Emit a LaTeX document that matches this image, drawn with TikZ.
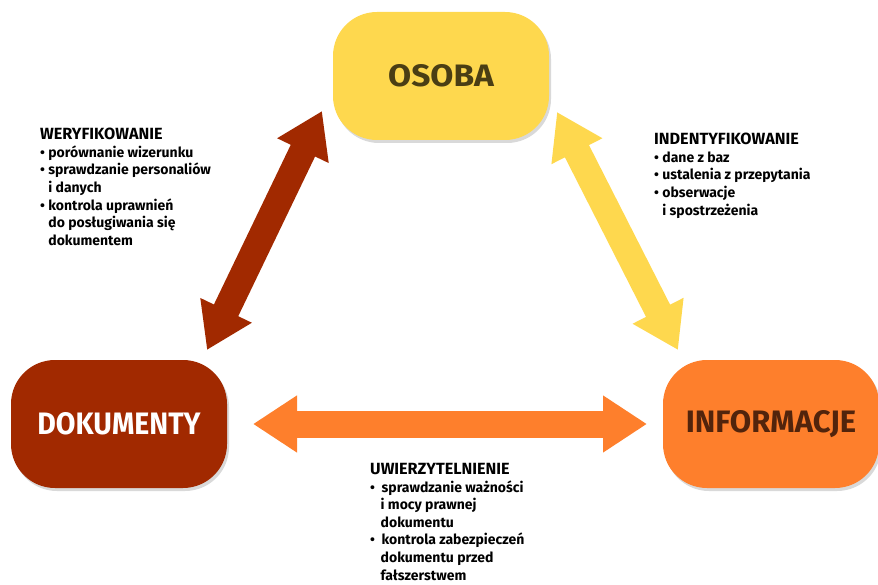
\documentclass[tikz,border=0pt]{standalone}
\usepackage{fontspec}
\setmainfont{Fira Sans}
\usetikzlibrary{arrows.meta,shadows}

\definecolor{osobaYellow}{RGB}{254,216,78}
\definecolor{dokRed}{RGB}{161,41,0}
\definecolor{infoOrange}{RGB}{254,127,44}
\definecolor{osobaText}{RGB}{74,62,20}
\definecolor{infoText}{RGB}{82,36,12}

\tikzset{
  box/.style={rounded corners=44pt, minimum width=216pt, minimum height=128pt, inner sep=0pt,
    font=\fontsize{31}{31}\selectfont\bfseries,
    drop shadow={shadow xshift=2pt, shadow yshift=-3pt, opacity=0.3}},
  fatarrow/.style={line width=27pt, {Triangle[length=44pt,width=54pt]}-{Triangle[length=44pt,width=54pt]}},
  txt/.style={align=left, inner sep=0pt, anchor=north west, font=\fontsize{14}{17.6}\selectfont\bfseries},
}
\newcommand{\blocktitle}[1]{{\fontsize{16.2}{17.6}\selectfont #1}}

\begin{document}
\begin{tikzpicture}[x=1pt,y=1pt,yscale=-1,xscale=1]
\useasboundingbox (0,0) rectangle (878,585);

%Shape: Rounded Rect
\node (osoba) [box, fill=osobaYellow, text=osobaText] at (441,76) {\scalebox{1.08}[1]{OSOBA}};
%Shape: Rounded Rect
\node (dok) [box, fill=dokRed, text=white] at (119,424) {\scalebox{0.92}[1]{DOKUMENTY}};
%Shape: Rounded Rect
\node (info) [box, fill=infoOrange, text=infoText] at (771,424) {INFORMACJE};

% arrow ends
\coordinate (dokTipU) at (207,350);
\coordinate (osobaTipL) at (322,111);
\coordinate (osobaTipR) at (557,112);
\coordinate (infoTipU) at (678,350);
\coordinate (dokTipR) at (253,424);
\coordinate (infoTipL) at (647,424);

%Double Arrows
\draw [fatarrow, dokRed] (dokTipU) -- (osobaTipL);
\draw [fatarrow, osobaYellow] (osobaTipR) -- (infoTipU);
\draw [fatarrow, infoOrange] (dokTipR) -- (infoTipL);

% Text Node
\node (wer) [txt] at (40,128) {\blocktitle{WERYFIKOWANIE}\\
\textbullet\ porównanie wizerunku\\
\textbullet\ sprawdzanie personaliów\\
\phantom{\textbullet\ }i danych\\
\textbullet\ kontrola uprawnień\\
\phantom{\textbullet\ }do posługiwania się\\
\phantom{\textbullet\ }dokumentem};
% Text Node
\node (ind) [txt] at (654,133) {\blocktitle{INDENTYFIKOWANIE}\\
\textbullet\ dane z baz\\
\textbullet\ ustalenia z przepytania\\
\textbullet\ obserwacje\\
\phantom{\textbullet\ }i spostrzeżenia};
% Text Node
\node (uwi) [txt] at (370,463) {\blocktitle{UWIERZYTELNIENIE}\\
\textbullet\ \ sprawdzanie ważności\\
\phantom{\textbullet\ }\,i mocy prawnej\\
\phantom{\textbullet\ }\,dokumentu\\
\textbullet\ \ kontrola zabezpieczeń\\
\phantom{\textbullet\ }\,dokumentu przed\\
\phantom{\textbullet\ }\,fałszerstwem};

\end{tikzpicture}
\end{document}
